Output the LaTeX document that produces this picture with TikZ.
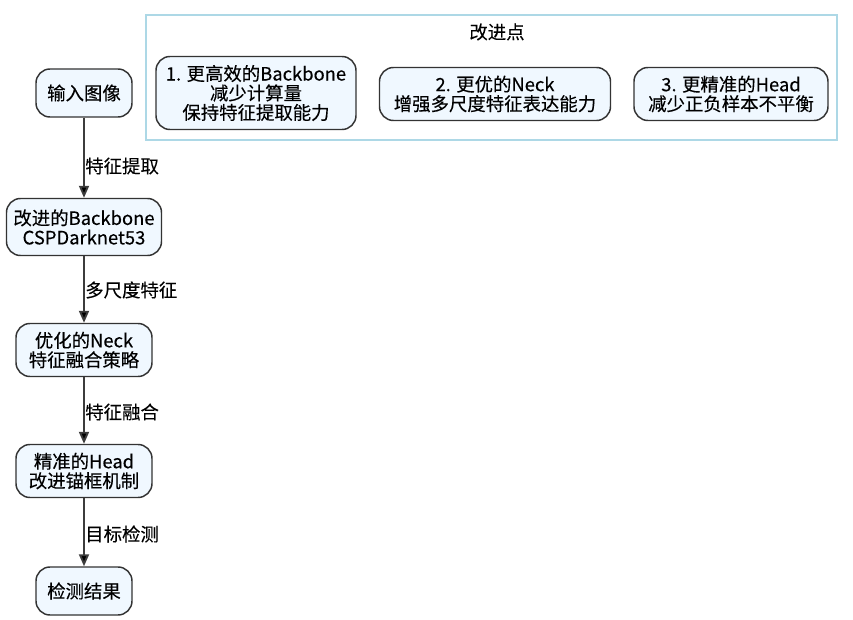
\documentclass[tikz,border=0pt]{standalone}
\usepackage{fontspec}
\setmainfont{Noto Sans CJK SC}[UprightFeatures={FakeBold=0.25}]
\usetikzlibrary{arrows.meta}
\definecolor{nodefill}{HTML}{F0F8FF}
\definecolor{nodeline}{HTML}{333333}
\definecolor{edgeline}{HTML}{3C3C3C}
\definecolor{clusterline}{HTML}{ADD8E6}
\begin{document}
\begin{tikzpicture}[x=0.75pt,y=-0.75pt,
  every node/.style={font=\fontsize{13.8pt}{14.6pt}\selectfont},
  box/.style={draw=nodeline,fill=nodefill,line width=1.1pt,rounded corners=10.5pt,align=center,inner sep=0pt},
  flow/.style={draw=edgeline,line width=1.4pt,-{Triangle[length=9pt,width=7.5pt,fill=black]}},
  elabel/.style={anchor=west,inner sep=0pt}]
\useasboundingbox (0,0) rectangle (853,620);
% cluster
\draw[clusterline,line width=1.1pt] (146,15) rectangle (837,140);
\node (title) at (497,32) {改进点};
\node[box,minimum width=200*0.75pt,minimum height=73*0.75pt] (i1) at (256,93) {1. 更高效的Backbone\\减少计算量\\保持特征提取能力};
\node[box,minimum width=231*0.75pt,minimum height=53*0.75pt] (i2) at (495,94) {2. 更优的Neck\\增强多尺度特征表达能力};
\node[box,minimum width=194*0.75pt,minimum height=53*0.75pt] (i3) at (731,94) {3. 更精准的Head\\减少正负样本不平衡};
% main flow
\node[box,minimum width=96*0.75pt,minimum height=48*0.75pt] (in) at (84,93) {输入图像};
\node[box,minimum width=155*0.75pt,minimum height=57*0.75pt] (bb) at (84,227) {改进的Backbone\\CSPDarknet53};
\node[box,minimum width=136*0.75pt,minimum height=53*0.75pt] (neck) at (84,350) {优化的Neck\\特征融合策略};
\node[box,minimum width=136*0.75pt,minimum height=53*0.75pt] (head) at (84,471) {精准的Head\\改进锚框机制};
\node[box,minimum width=96*0.75pt,minimum height=48*0.75pt] (out) at (84,591) {检测结果};
\draw[flow] (in) -- (bb);
\draw[flow] (bb) -- (neck);
\draw[flow] (neck) -- (head);
\draw[flow] (head) -- (out);
\node[elabel] (l1) at (85,166) {特征提取};
\node[elabel] (l2) at (85,290) {多尺度特征};
\node[elabel] (l3) at (85,412) {特征融合};
\node[elabel] (l4) at (85,534) {目标检测};
\end{tikzpicture}
\end{document}
